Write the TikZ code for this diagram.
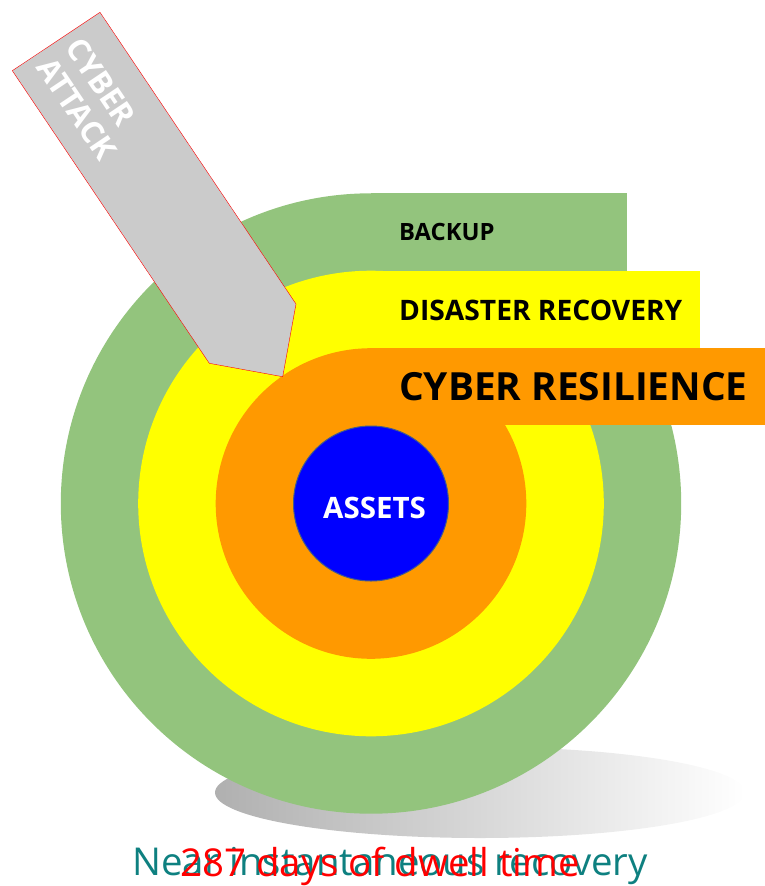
\documentclass[tikz,border=0pt]{standalone}
\usepackage{fontspec}
\setmainfont{Open Sans}
\definecolor{ringgreen}{RGB}{147,196,125}
\definecolor{ringyellow}{RGB}{255,255,0}
\definecolor{ringorange}{RGB}{255,153,0}
\definecolor{coreblue}{RGB}{0,0,255}
\definecolor{coreedge}{RGB}{65,90,140}
\definecolor{arrowgrey}{RGB}{203,203,203}
\definecolor{shadowgrey}{RGB}{176,176,176}
\definecolor{tealtext}{RGB}{14,128,128}
\tikzset{
  tablabel/.style={anchor=base west, inner sep=0pt, text=black, font=\bfseries},
  bottomtext/.style={anchor=base, inner sep=0pt, font=\fontsize{38.4}{38.4}\selectfont},
}
\begin{document}
\begin{tikzpicture}[x=1pt,y=-1pt]
\useasboundingbox (0,0) rectangle (765,886);
\coordinate (c) at (371,503.5);
% shadow
\shade[left color=shadowgrey, right color=white] (480,792.5) ellipse [x radius=265pt, y radius=45.5pt];
% rings and tabs
\fill[ringgreen] (c) circle [radius=310.2pt];
\fill[ringgreen] (371,193.3) rectangle (626.7,270.7);
\fill[ringyellow] (c) circle [radius=232.8pt];
\fill[ringyellow] (371,270.7) rectangle (700,348.3);
\fill[ringorange] (c) circle [radius=155.3pt];
\fill[ringorange] (371,348.3) rectangle (765,425.3);
\filldraw[fill=coreblue, draw=coreedge, line width=1pt] (c) circle [radius=77.5pt];
% labels
\node[tablabel, font=\bfseries\fontsize{23.8}{23.8}\selectfont] (backup) at (399,240) {BACKUP};
\node[tablabel, font=\bfseries\fontsize{28.2}{28.2}\selectfont] (dr) at (399,320) {DISASTER RECOVERY};
\node[tablabel, font=\bfseries\fontsize{38.8}{38.8}\selectfont] (cr) at (399,400) {CYBER RESILIENCE};
\node[anchor=base, inner sep=0pt, text=white, font=\bfseries\fontsize{29.5}{29.5}\selectfont] (assets) at (374.5,518) {ASSETS};
% attack arrow
\filldraw[fill=arrowgrey, draw=red, line width=0.4pt]
  (100,12.3) -- (12.3,70.7) -- (209.3,363.3) -- (282.7,376.7) -- (296,304) -- cycle;
\node[rotate=-56.1, align=left, text=white, inner sep=0pt,
      font=\bfseries\fontsize{31}{35}\selectfont] (attack) at (91.5,99) {CYBER\\ATTACK};
% bottom texts
\node[bottomtext, text=tealtext] (near) at (390,875) {Near instantaneous recovery};
\node[bottomtext, text=red] (dwell) at (380,876) {287 days of dwell time};
\end{tikzpicture}
\end{document}
